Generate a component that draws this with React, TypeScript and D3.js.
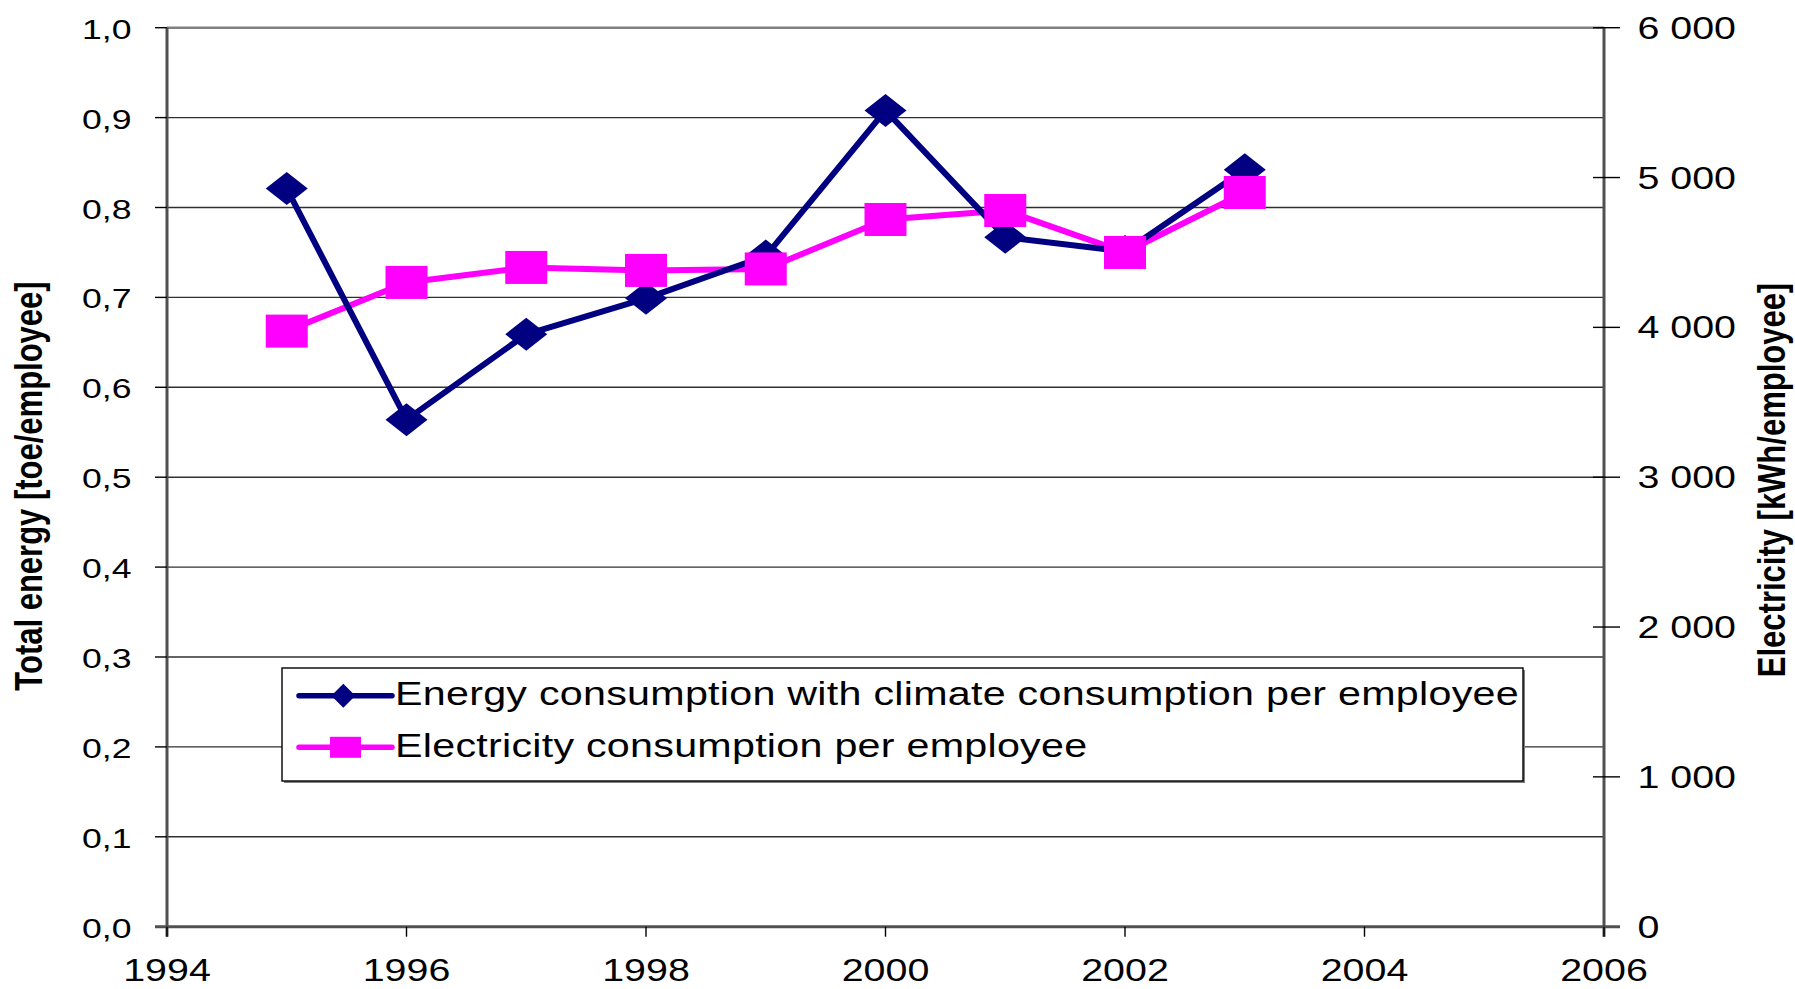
import React from 'react';
import * as d3 from 'd3';

// years on the x axis
const years = [1995, 1996, 1997, 1998, 1999, 2000, 2001, 2002, 2003];
// toe / employee (left axis)
const energyPerEmployee = [0.821, 0.564, 0.659, 0.699, 0.746, 0.908, 0.767, 0.751, 0.842];
// kWh / employee (right axis)
const electricityPerEmployee = [3975, 4300, 4400, 4380, 4390, 4720, 4780, 4500, 4900];

const xTicks = [1994, 1996, 1998, 2000, 2002, 2004, 2006];
const leftTicks = [0, 0.1, 0.2, 0.3, 0.4, 0.5, 0.6, 0.7, 0.8, 0.9, 1.0];
const rightTicks = [0, 1000, 2000, 3000, 4000, 5000, 6000];

const seriesNames = [
  'Energy consumption with climate consumption per employee',
  'Electricity consumption per employee',
];

const W = 1795;
const H = 989;
const left = 167;
const right = 1604;
const top = 27.7;
const bottom = 926.7;
const SX = 1.27; // the original picture is stretched sideways
const FONT = "'Liberation Sans', Arial, sans-serif";
const NAVY = '#000080';
const MAGENTA = '#FF00FF';

const locale = d3.formatLocale({ decimal: ',', thousands: '\u00a0', grouping: [3], currency: ['', ''] });
const fmtLeft = locale.format('.1f');
const fmtRight = locale.format(',d');

const App: React.FC = () => {
  const x = d3.scaleLinear().domain([1994, 2006]).range([left, right]);
  const yL = d3.scaleLinear().domain([0, 1]).range([bottom, top]);
  const yR = d3.scaleLinear().domain([0, 6000]).range([bottom, top]);

  const energyLine = d3.line<number>()
    .x((_, i) => x(years[i]))
    .y(d => yL(d));
  const elecLine = d3.line<number>()
    .x((_, i) => x(years[i]))
    .y(d => yR(d));

  const diamond = (cx: number, cy: number, w: number, h: number) =>
    `M${cx},${cy - h / 2}L${cx + w / 2},${cy}L${cx},${cy + h / 2}L${cx - w / 2},${cy}Z`;

  const axisColor = '#505050';

  return (
    <svg width={W} height={H} style={{ position: 'absolute', left: 0, top: 0, background: '#fff' }}
      fontFamily={FONT}>
      <rect x={0} y={0} width={W} height={H} fill="#fff" />

      {/* gridlines */}
      <g className="grid">
        {leftTicks.map(t => (
          <line key={t} x1={left} x2={right} y1={yL(t)} y2={yL(t)}
            stroke={t === 1 ? '#808080' : '#303030'} strokeWidth={t === 1 ? 2.5 : 1.4} />
        ))}
      </g>

      {/* left axis */}
      <g className="axis-left">
        <line x1={left} x2={left} y1={top} y2={bottom + 10} stroke={axisColor} strokeWidth={3} />
        {leftTicks.map(t => (
          <g key={t}>
            <line x1={left - 12} x2={left} y1={yL(t)} y2={yL(t)} stroke="#000" strokeWidth={1.4} />
            <text transform={`translate(${131.5},${yL(t) + 11}) scale(${SX},1)`}
              textAnchor="end" fontSize={28} fill="#000">{fmtLeft(t)}</text>
          </g>
        ))}
      </g>

      {/* right axis */}
      <g className="axis-right">
        <line x1={right} x2={right} y1={top} y2={bottom + 10} stroke={axisColor} strokeWidth={3} />
        {rightTicks.map(t => (
          <g key={t}>
            <line x1={right - 11} x2={right + 16} y1={yR(t)} y2={yR(t)} stroke="#000" strokeWidth={1.4} />
            <text transform={`translate(${1637.5},${yR(t) + 11}) scale(${SX},1)`}
              textAnchor="start" fontSize={31} fill="#000">{fmtRight(t)}</text>
          </g>
        ))}
      </g>

      {/* bottom axis */}
      <g className="axis-bottom">
        <line x1={left - 12} x2={right + 16} y1={bottom} y2={bottom} stroke={axisColor} strokeWidth={3} />
        {xTicks.map(t => (
          <g key={t}>
            <line x1={x(t)} x2={x(t)} y1={bottom} y2={bottom + 10} stroke="#000" strokeWidth={1.4} />
            <text transform={`translate(${x(t)},${981}) scale(${SX},1)`}
              textAnchor="middle" fontSize={31} fill="#000">{String(t)}</text>
          </g>
        ))}
      </g>

      {/* axis titles */}
      <text transform={`translate(42,${486}) scale(${SX},1) rotate(-90)`} textAnchor="middle"
        fontSize={31} fontWeight="bold" fill="#000">Total energy [toe/employee]</text>
      <text transform={`translate(1785,${480}) scale(${SX},1) rotate(-90)`} textAnchor="middle"
        fontSize={31} fontWeight="bold" fill="#000">Electricity [kWh/employee]</text>

      {/* series lines */}
      <path d={elecLine(electricityPerEmployee) || ''} fill="none" stroke={MAGENTA} strokeWidth={6}
        strokeLinejoin="round" />
      <path d={energyLine(energyPerEmployee) || ''} fill="none" stroke={NAVY} strokeWidth={6}
        strokeLinejoin="round" />

      {/* markers */}
      {energyPerEmployee.map((v, i) => (
        <path key={'d' + i} d={diamond(x(years[i]), yL(v), 42, 33)} fill={NAVY} />
      ))}
      {electricityPerEmployee.map((v, i) => (
        <rect key={'s' + i} x={x(years[i]) - 21} y={yR(v) - 16.5} width={42} height={33} fill={MAGENTA} />
      ))}

      {/* legend */}
      <g className="legend">
        <rect x={284} y={670} width={1241} height={113} fill="#808080" />
        <rect x={282} y={668} width={1241} height={113} fill="#fff" stroke="#000" strokeWidth={1.4} />
        <line x1={299} x2={392} y1={695.7} y2={695.7} stroke={NAVY} strokeWidth={5.5} strokeLinecap="round" />
        <path d={diamond(343.3, 695.7, 24, 24)} fill={NAVY} />
        <text transform={`translate(395,705) scale(${SX},1)`} fontSize={32.5} letterSpacing={0.2} fill="#000">{seriesNames[0]}</text>
        <line x1={299} x2={392} y1={747.3} y2={747.3} stroke={MAGENTA} strokeWidth={5.5} strokeLinecap="round" />
        <rect x={345.5 - 15.5} y={747.3 - 10.5} width={31} height={21} fill={MAGENTA} />
        <text transform={`translate(395,756.5) scale(${SX},1)`} fontSize={32.5} letterSpacing={0.2} fill="#000">{seriesNames[1]}</text>
      </g>
    </svg>
  );
};

export default App;
